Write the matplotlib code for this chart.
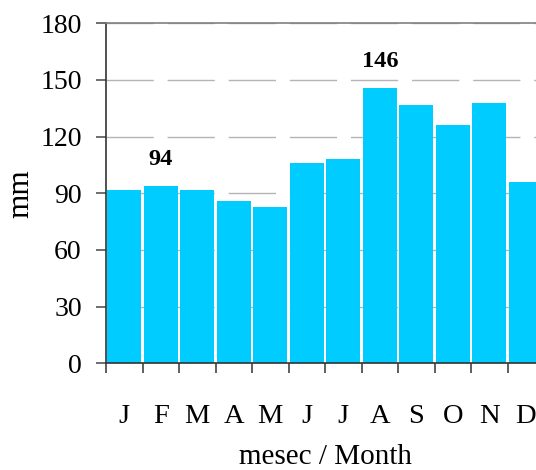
import numpy as np
import matplotlib
matplotlib.use("Agg")
import matplotlib.pyplot as plt

# mesečne padavine
months = ["J", "F", "M", "A", "M", "J", "J", "A", "S", "O", "N", "D"]
rain_mm = [92, 94, 92, 86, 83, 106, 108, 146, 137, 126, 138, 96]
labeled = {1: "94", 7: "146"}  # indeks stupca -> napis
y_ticks = [0, 30, 60, 90, 120, 150, 180]

plt.rcParams['font.family'] = ['Liberation Serif', 'DejaVu Serif']

fig = plt.figure(figsize=(5.36, 4.70), dpi=100)
ax = fig.add_axes([106 / 536, 1 - 363.3 / 470, 438 / 536, 340 / 470])

x = np.arange(len(months))
ax.bar(x, rain_mm, width=0.92, color='#00CCFF', zorder=2)

for i, txt in labeled.items():
    ax.annotate(txt, (x[i], rain_mm[i]), xytext=(0, 19), textcoords='offset points',
                ha='center', va='center', fontsize=17.5, fontweight='bold')

ax.set_xlim(-0.5, 11.5)
ax.set_ylim(0, 180)
ax.set_yticks(y_ticks)
ax.set_xticks(x)
ax.set_xticklabels(months)
ax.set_xticks(np.arange(-0.5, 11.5, 1.0), minor=True)

ax.tick_params(axis='x', which='major', length=0, pad=29, labelsize=20.5)
ax.tick_params(axis='x', which='minor', length=7.5, width=1.2, color='#444444')
ax.tick_params(axis='y', length=7.5, width=1.2, color='#555555', pad=10, labelsize=20)

ax.grid(axis='y', color='#b4b4b4', linewidth=1.0, linestyle=(0, (34, 10)), zorder=0)
ax.set_axisbelow(True)

ax.spines['right'].set_visible(False)
ax.spines['top'].set_color('#808080')
ax.spines['top'].set_linewidth(1.2)
ax.spines['left'].set_color('#333333')
ax.spines['left'].set_linewidth(1.2)
ax.spines['bottom'].set_color('#333333')
ax.spines['bottom'].set_linewidth(1.2)

ax.set_xlabel("mesec / Month", fontsize=21, labelpad=11)
ax.set_ylabel("mm", fontsize=22.5, labelpad=3.5)

fig.savefig("out.png", dpi=100)
